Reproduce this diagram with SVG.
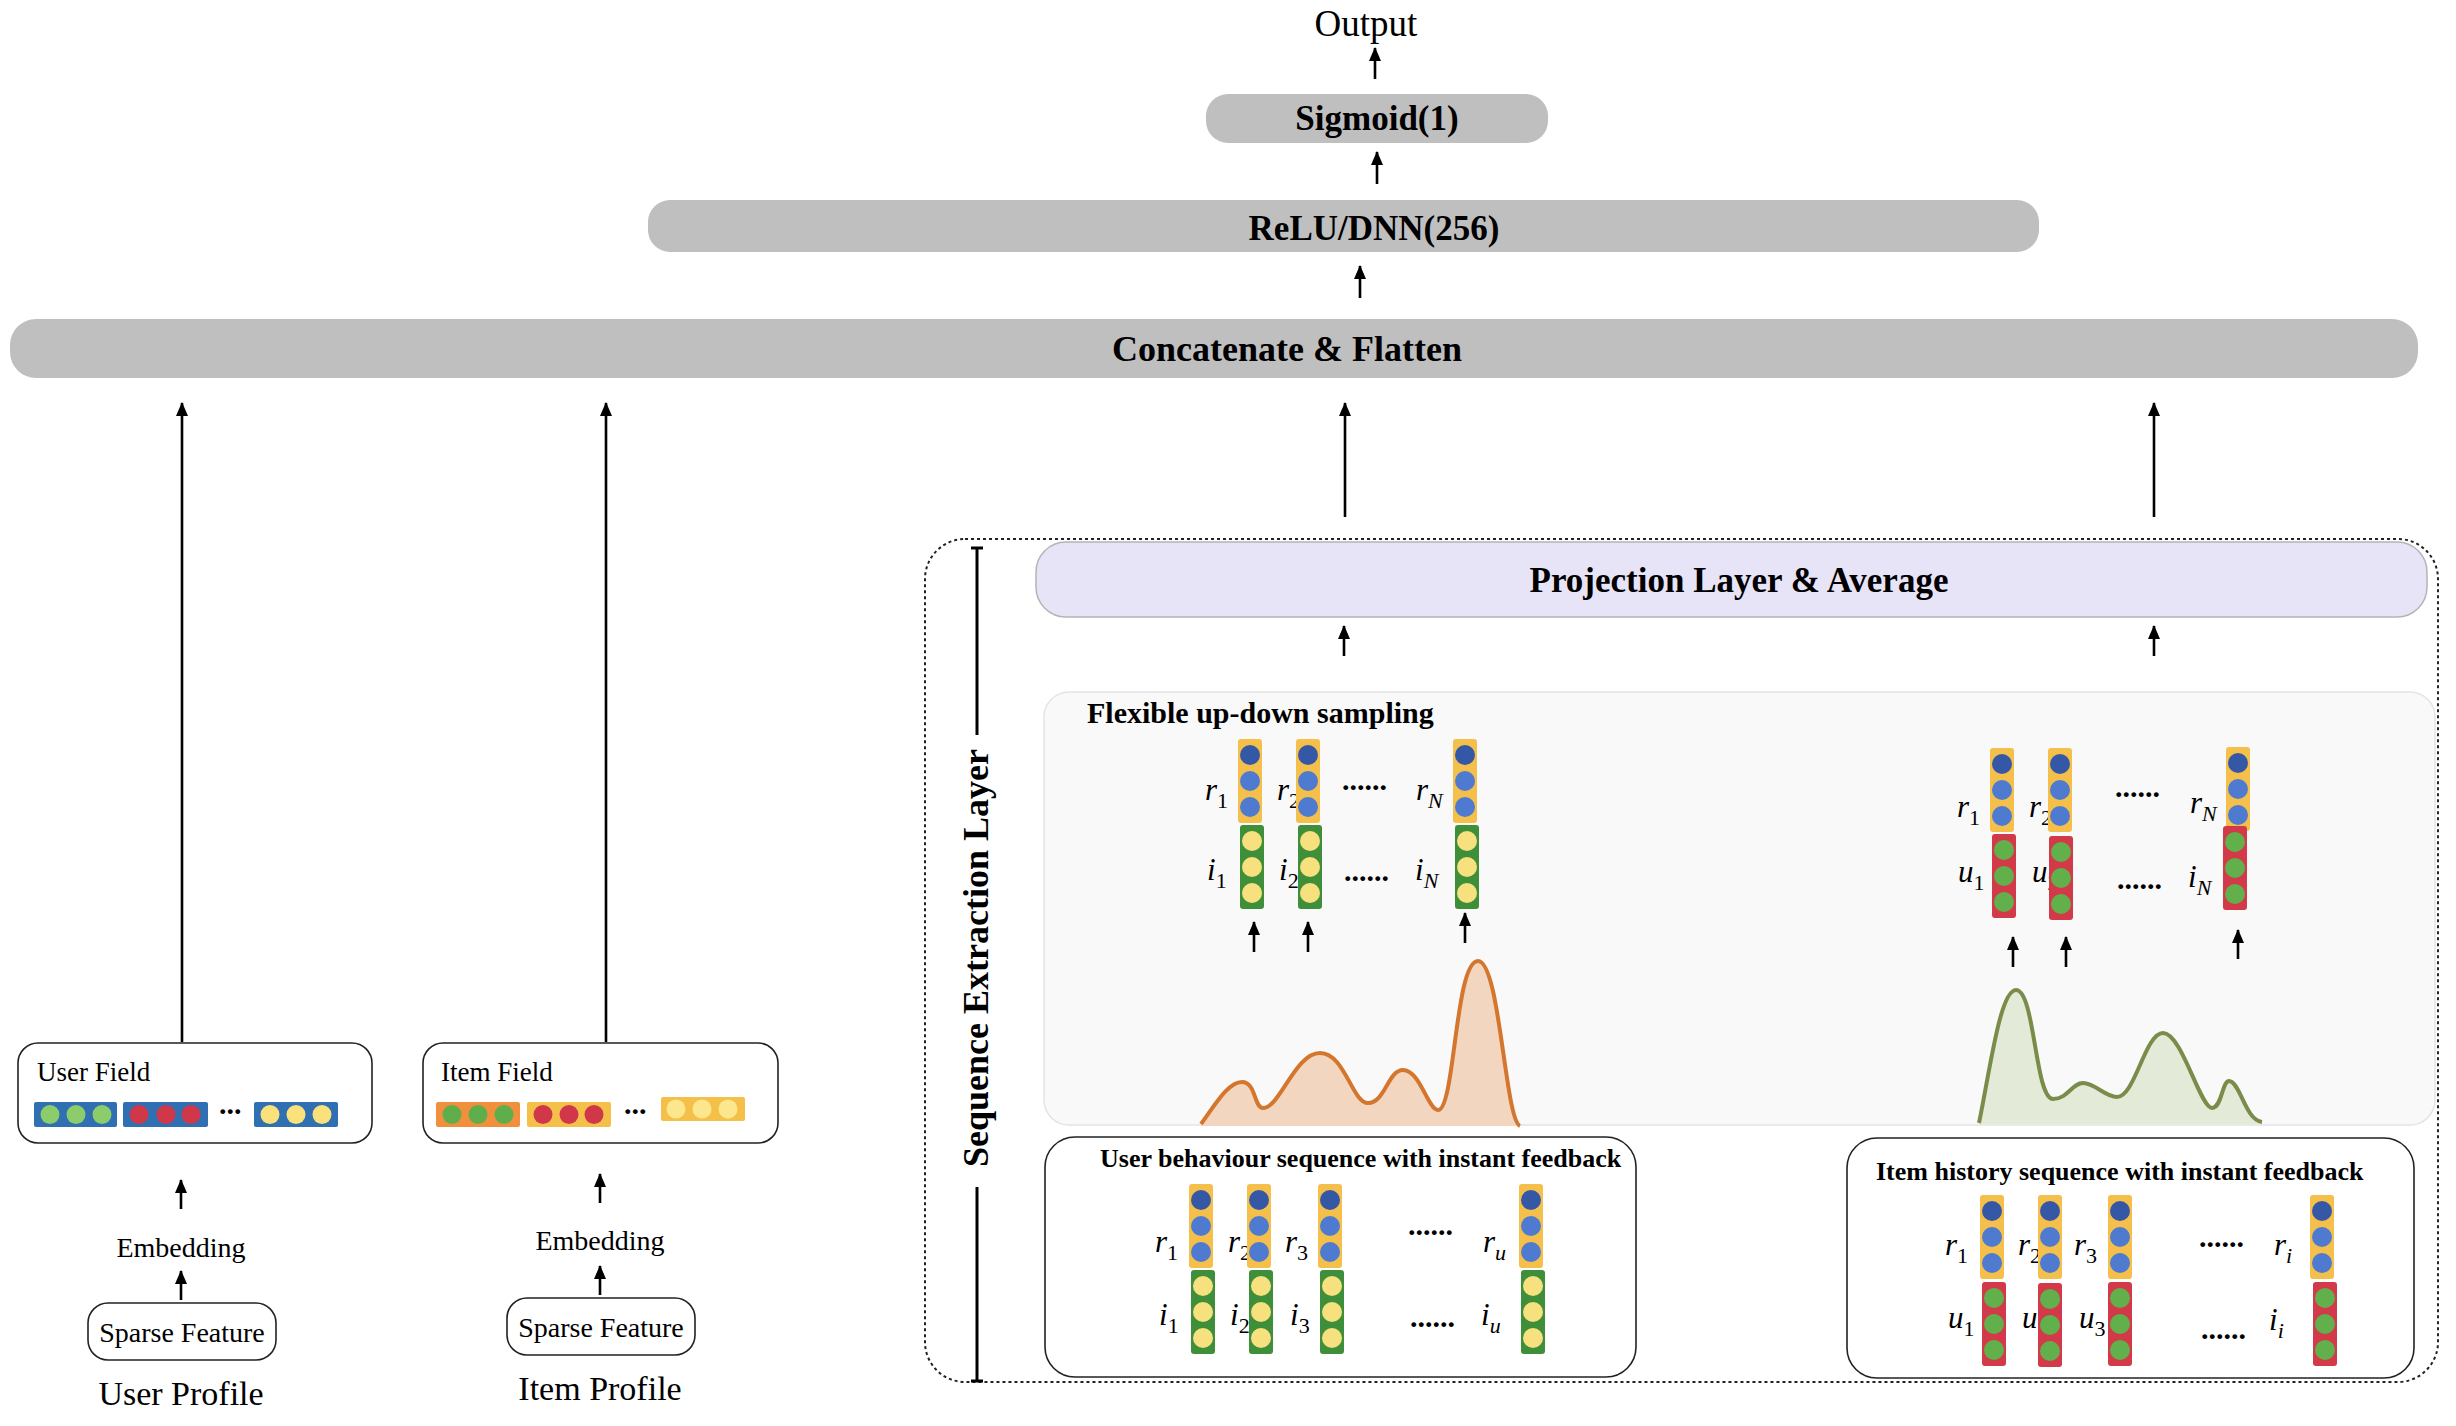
<svg xmlns="http://www.w3.org/2000/svg" xmlns:xlink="http://www.w3.org/1999/xlink" width="2456" height="1426" viewBox="0 0 2456 1426">
<style>
.b{font-family:"Liberation Serif","DejaVu Serif",serif;font-weight:bold;fill:#000}
.r{font-family:"Liberation Serif","DejaVu Serif",serif;fill:#000}
.m{font-family:"Liberation Serif","DejaVu Serif",serif;font-style:italic;font-size:31px;fill:#000}
.s{font-size:22px}
.sn{font-size:22px;font-style:normal}
.dots{font-family:"Liberation Serif",serif;font-weight:bold;font-size:30px;fill:#000}
.gray{fill:#bfbfbf}
.box{fill:#fff;stroke:#222;stroke-width:1.6}
.ar{stroke:#000;stroke-width:2.6;fill:none;marker-end:url(#ah)}
</style>
<defs>
<marker id="ah" viewBox="0 0 14 12" refX="13" refY="6" markerWidth="14" markerHeight="12" markerUnits="userSpaceOnUse" orient="auto"><path d="M0,0 L14,6 L0,12 Z" fill="#000"/></marker>
<g id="vRB"><rect x="0" y="0" width="24" height="84" rx="3" fill="#f5bf4c"/><circle cx="12" cy="16" r="10" fill="#3458a5"/><circle cx="12" cy="42" r="10" fill="#4e7bcf"/><circle cx="12" cy="68" r="10" fill="#4e7bcf"/></g>
<g id="vGY"><rect x="0" y="0" width="24" height="84" rx="3" fill="#3f8f3a"/><circle cx="12" cy="16" r="10" fill="#f7e07e"/><circle cx="12" cy="42" r="10" fill="#f7e07e"/><circle cx="12" cy="68" r="10" fill="#f7e07e"/></g>
<g id="vRG"><rect x="0" y="0" width="24" height="84" rx="3" fill="#d23a4a"/><circle cx="12" cy="16" r="10" fill="#62b04b"/><circle cx="12" cy="42" r="10" fill="#62b04b"/><circle cx="12" cy="68" r="10" fill="#62b04b"/></g>
</defs>
<rect width="2456" height="1426" fill="#fff"/>

<g id="output"><text class="r" x="1366" y="36" font-size="37" text-anchor="middle">Output</text></g>
<g id="sigmoid"><rect class="gray" x="1206" y="94" width="342" height="49" rx="22"/><text class="b" x="1377" y="130" font-size="35" text-anchor="middle">Sigmoid(1)</text></g>
<g id="relu"><rect class="gray" x="648" y="200" width="1391" height="52" rx="22"/><text class="b" x="1374" y="240" font-size="35" text-anchor="middle">ReLU/DNN(256)</text></g>
<g id="concat"><rect class="gray" x="10" y="319" width="2408" height="59" rx="26"/><text class="b" x="1287" y="361" font-size="36" text-anchor="middle">Concatenate &amp; Flatten</text></g>

<g id="seq-layer">
<rect x="925" y="539" width="1513" height="843" rx="40" fill="none" stroke="#222" stroke-width="2" stroke-dasharray="3 3"/>
<line x1="977" y1="548" x2="977" y2="735" stroke="#000" stroke-width="3"/>
<line x1="977" y1="1187" x2="977" y2="1381" stroke="#000" stroke-width="3"/>
<line x1="971" y1="548" x2="983" y2="548" stroke="#000" stroke-width="3"/>
<line x1="971" y1="1381" x2="983" y2="1381" stroke="#000" stroke-width="3"/>
<text class="b" font-size="36" text-anchor="middle" transform="translate(988,958) rotate(-90)">Sequence Extraction Layer</text>
</g>

<g id="projection"><rect x="1036" y="542" width="1391" height="75" rx="30" fill="#e8e4f8" stroke="#b4b4b4" stroke-width="1.5"/><text class="b" x="1739" y="592" font-size="35" text-anchor="middle">Projection Layer &amp; Average</text></g>

<g id="sampling">
<rect x="1044" y="692" width="1391" height="433" rx="25" fill="#f9f9f9" stroke="#e4e4e4" stroke-width="1.5"/>
<text class="b" x="1087" y="723" font-size="30">Flexible up-down sampling</text>
<path d="M1201,1126 C1215,1105 1228,1082 1242,1082 C1256,1082 1254,1108 1263,1108 C1280,1108 1295,1053 1320,1053 C1345,1053 1352,1103 1368,1103 C1385,1103 1388,1070 1403,1070 C1420,1070 1428,1110 1438,1110 C1455,1110 1455,961 1478,961 C1500,961 1505,1120 1520,1126 Z" fill="#f2d6c0"/>
<path d="M1201,1124 C1215,1105 1228,1082 1242,1082 C1256,1082 1254,1108 1263,1108 C1280,1108 1295,1053 1320,1053 C1345,1053 1352,1103 1368,1103 C1385,1103 1388,1070 1403,1070 C1420,1070 1428,1110 1438,1110 C1455,1110 1455,961 1478,961 C1500,961 1505,1120 1520,1126" fill="none" stroke="#d4762e" stroke-width="4"/>
<path d="M1979,1124 C1990,1070 2000,990 2016,990 C2035,990 2035,1099 2053,1099 C2068,1099 2072,1083 2083,1083 C2095,1083 2105,1097 2117,1097 C2135,1097 2145,1033 2163,1033 C2182,1033 2200,1108 2212,1108 C2222,1108 2222,1081 2229,1081 C2240,1081 2245,1120 2262,1124 Z" fill="#e4ead8"/>
<path d="M1979,1123 C1990,1070 2000,990 2016,990 C2035,990 2035,1099 2053,1099 C2068,1099 2072,1083 2083,1083 C2095,1083 2105,1097 2117,1097 C2135,1097 2145,1033 2163,1033 C2182,1033 2200,1108 2212,1108 C2222,1108 2222,1081 2229,1081 C2240,1081 2245,1120 2262,1122" fill="none" stroke="#7a8c4a" stroke-width="4"/>
<text class="m" x="1205" y="800">r<tspan class="sn" dy="8">1</tspan></text>
<text class="m" x="1277" y="800">r<tspan class="sn" dy="8">2</tspan></text>
<text class="m" x="1416" y="800">r<tspan class="s" dy="8">N</tspan></text>
<text class="m" x="1207" y="880">i<tspan class="sn" dy="8">1</tspan></text>
<text class="m" x="1279" y="880">i<tspan class="sn" dy="8">2</tspan></text>
<text class="m" x="1415" y="880">i<tspan class="s" dy="8">N</tspan></text>
<text class="dots" x="1342" y="790">......</text>
<text class="dots" x="1344" y="881">......</text>
<use xlink:href="#vRB" x="1238" y="739"/><use xlink:href="#vGY" x="1240" y="825"/>
<use xlink:href="#vRB" x="1296" y="739"/><use xlink:href="#vGY" x="1298" y="825"/>
<use xlink:href="#vRB" x="1453" y="739"/><use xlink:href="#vGY" x="1455" y="825"/>
<text class="m" x="1957" y="817">r<tspan class="sn" dy="8">1</tspan></text>
<text class="m" x="2029" y="817">r<tspan class="sn" dy="8">2</tspan></text>
<text class="m" x="2190" y="813">r<tspan class="s" dy="8">N</tspan></text>
<text class="m" x="1958" y="882">u<tspan class="sn" dy="8">1</tspan></text>
<text class="m" x="2032" y="882">u<tspan class="sn" dy="8">2</tspan></text>
<text class="m" x="2188" y="887">i<tspan class="s" dy="8">N</tspan></text>
<text class="dots" x="2115" y="797">......</text>
<text class="dots" x="2117" y="889">......</text>
<use xlink:href="#vRB" x="1990" y="748"/><use xlink:href="#vRG" x="1992" y="834"/>
<use xlink:href="#vRB" x="2048" y="748"/><use xlink:href="#vRG" x="2049" y="836"/>
<use xlink:href="#vRB" x="2226" y="747"/><use xlink:href="#vRG" x="2223" y="826"/>
</g>

<g id="user-seq">
<rect class="box" x="1045" y="1137" width="591" height="240" rx="30"/>
<text class="b" x="1100" y="1167" font-size="26">User behaviour sequence with instant feedback</text>
<text class="m" x="1155" y="1252">r<tspan class="sn" dy="8">1</tspan></text>
<text class="m" x="1228" y="1252">r<tspan class="sn" dy="8">2</tspan></text>
<text class="m" x="1285" y="1252">r<tspan class="sn" dy="8">3</tspan></text>
<text class="m" x="1483" y="1252">r<tspan class="s" dy="8">u</tspan></text>
<text class="m" x="1159" y="1325">i<tspan class="sn" dy="8">1</tspan></text>
<text class="m" x="1230" y="1325">i<tspan class="sn" dy="8">2</tspan></text>
<text class="m" x="1290" y="1325">i<tspan class="sn" dy="8">3</tspan></text>
<text class="m" x="1481" y="1325">i<tspan class="s" dy="8">u</tspan></text>
<text class="dots" x="1408" y="1235">......</text>
<text class="dots" x="1410" y="1327">......</text>
<use xlink:href="#vRB" x="1189" y="1184"/><use xlink:href="#vGY" x="1191" y="1270"/>
<use xlink:href="#vRB" x="1247" y="1184"/><use xlink:href="#vGY" x="1249" y="1270"/>
<use xlink:href="#vRB" x="1318" y="1184"/><use xlink:href="#vGY" x="1320" y="1270"/>
<use xlink:href="#vRB" x="1519" y="1184"/><use xlink:href="#vGY" x="1521" y="1270"/>
</g>

<g id="item-seq">
<rect class="box" x="1847" y="1138" width="567" height="240" rx="30"/>
<text class="b" x="1876" y="1180" font-size="26">Item history sequence with instant feedback</text>
<text class="m" x="1945" y="1255">r<tspan class="sn" dy="8">1</tspan></text>
<text class="m" x="2018" y="1255">r<tspan class="sn" dy="8">2</tspan></text>
<text class="m" x="2074" y="1255">r<tspan class="sn" dy="8">3</tspan></text>
<text class="m" x="2274" y="1255">r<tspan class="s" dy="8">i</tspan></text>
<text class="m" x="1948" y="1328">u<tspan class="sn" dy="8">1</tspan></text>
<text class="m" x="2022" y="1328">u<tspan class="sn" dy="8">2</tspan></text>
<text class="m" x="2079" y="1328">u<tspan class="sn" dy="8">3</tspan></text>
<text class="m" x="2269" y="1330">i<tspan class="s" dy="8">i</tspan></text>
<text class="dots" x="2199" y="1247">......</text>
<text class="dots" x="2201" y="1339">......</text>
<use xlink:href="#vRB" x="1980" y="1195"/><use xlink:href="#vRG" x="1982" y="1282"/>
<use xlink:href="#vRB" x="2038" y="1195"/><use xlink:href="#vRG" x="2038" y="1283"/>
<use xlink:href="#vRB" x="2108" y="1195"/><use xlink:href="#vRG" x="2108" y="1282"/>
<use xlink:href="#vRB" x="2310" y="1195"/><use xlink:href="#vRG" x="2313" y="1282"/>
</g>

<g id="user-field">
<rect class="box" x="18" y="1043" width="354" height="100" rx="20"/>
<text class="r" x="37" y="1081" font-size="27">User Field</text>
<rect x="34" y="1102" width="83" height="25" rx="2" fill="#2f6fb2"/>
<circle cx="50" cy="1114.5" r="9.5" fill="#8ccc6a"/><circle cx="76" cy="1114.5" r="9.5" fill="#8ccc6a"/><circle cx="102" cy="1114.5" r="9.5" fill="#8ccc6a"/>
<rect x="123" y="1102" width="85" height="25" rx="2" fill="#2f6fb2"/>
<circle cx="139" cy="1114.5" r="9.5" fill="#d0384a"/><circle cx="166" cy="1114.5" r="9.5" fill="#d0384a"/><circle cx="191" cy="1114.5" r="9.5" fill="#d0384a"/>
<text class="dots" x="219" y="1114" font-size="28">...</text>
<rect x="254" y="1102" width="84" height="25" rx="2" fill="#2f6fb2"/>
<circle cx="270" cy="1114.5" r="9.5" fill="#fbe17c"/><circle cx="296" cy="1114.5" r="9.5" fill="#fbe17c"/><circle cx="322" cy="1114.5" r="9.5" fill="#fbe17c"/>
</g>
<g id="user-embedding"><text class="r" x="181" y="1257" font-size="28" text-anchor="middle">Embedding</text></g>
<g id="user-sparse"><rect class="box" x="88" y="1303" width="188" height="57" rx="20"/><text class="r" x="182" y="1342" font-size="28" text-anchor="middle">Sparse Feature</text></g>
<g id="user-profile"><text class="r" x="181" y="1405" font-size="34" text-anchor="middle">User Profile</text></g>

<g id="item-field">
<rect class="box" x="423" y="1043" width="355" height="100" rx="20"/>
<text class="r" x="441" y="1081" font-size="27">Item Field</text>
<rect x="436" y="1102" width="84" height="25" rx="2" fill="#f0903c"/>
<circle cx="452" cy="1114.5" r="9.5" fill="#5fae4b"/><circle cx="478" cy="1114.5" r="9.5" fill="#5fae4b"/><circle cx="504" cy="1114.5" r="9.5" fill="#5fae4b"/>
<rect x="527" y="1102" width="84" height="25" rx="2" fill="#f5c04a"/>
<circle cx="543" cy="1114.5" r="9.5" fill="#d0384a"/><circle cx="569" cy="1114.5" r="9.5" fill="#d0384a"/><circle cx="594" cy="1114.5" r="9.5" fill="#d0384a"/>
<text class="dots" x="624" y="1114" font-size="28">...</text>
<rect x="661" y="1097" width="84" height="24" rx="2" fill="#f5c04a"/>
<circle cx="676" cy="1109" r="9.5" fill="#fde78e"/><circle cx="702" cy="1109" r="9.5" fill="#fde78e"/><circle cx="728" cy="1109" r="9.5" fill="#fde78e"/>
</g>
<g id="item-embedding"><text class="r" x="600" y="1250" font-size="28" text-anchor="middle">Embedding</text></g>
<g id="item-sparse"><rect class="box" x="507" y="1298" width="188" height="57" rx="20"/><text class="r" x="601" y="1337" font-size="28" text-anchor="middle">Sparse Feature</text></g>
<g id="item-profile"><text class="r" x="600" y="1400" font-size="34" text-anchor="middle">Item Profile</text></g>

<g id="connectors">
<line class="ar" x1="1375" y1="79" x2="1375" y2="48"/>
<line class="ar" x1="1377" y1="184" x2="1377" y2="152"/>
<line class="ar" x1="1360" y1="298" x2="1360" y2="266"/>
<line class="ar" x1="182" y1="1042" x2="182" y2="403"/>
<line class="ar" x1="606" y1="1042" x2="606" y2="403"/>
<line class="ar" x1="1345" y1="517" x2="1345" y2="403"/>
<line class="ar" x1="2154" y1="517" x2="2154" y2="403"/>
<line class="ar" x1="1344" y1="656" x2="1344" y2="626"/>
<line class="ar" x1="2154" y1="656" x2="2154" y2="626"/>
<line class="ar" x1="1254" y1="952" x2="1254" y2="922"/>
<line class="ar" x1="1308" y1="952" x2="1308" y2="922"/>
<line class="ar" x1="1465" y1="943" x2="1465" y2="913"/>
<line class="ar" x1="2013" y1="967" x2="2013" y2="937"/>
<line class="ar" x1="2066" y1="967" x2="2066" y2="937"/>
<line class="ar" x1="2238" y1="959" x2="2238" y2="930"/>
<line class="ar" x1="181" y1="1209" x2="181" y2="1180"/>
<line class="ar" x1="181" y1="1300" x2="181" y2="1271"/>
<line class="ar" x1="600" y1="1203" x2="600" y2="1174"/>
<line class="ar" x1="600" y1="1295" x2="600" y2="1266"/>
</g>
</svg>
